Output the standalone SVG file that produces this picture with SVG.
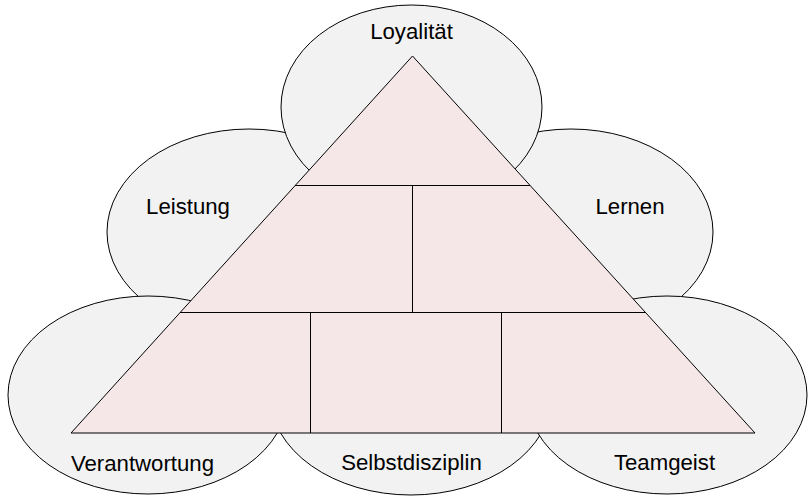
<svg xmlns="http://www.w3.org/2000/svg" width="808" height="496" viewBox="0 0 808 496">
<style>
.bub{fill:#f2f2f2;stroke:#000;stroke-width:1}
.tri{fill:#f5e7e7;stroke:#000;stroke-width:1}
.ln{stroke:#000;stroke-width:1;fill:none}
text{font-family:"Liberation Sans",Arial,sans-serif;font-size:22.2px;fill:#000;text-anchor:middle}
</style>
<rect width="808" height="496" fill="#fff"/>
<g id="leistung"><ellipse class="bub" cx="249" cy="232" rx="142" ry="103"/><text x="188" y="214">Leistung</text></g>
<g id="lernen"><ellipse class="bub" cx="571" cy="232" rx="142" ry="103"/><text x="630" y="214">Lernen</text></g>
<g id="loyalitaet"><ellipse class="bub" cx="411.5" cy="107" rx="130.5" ry="102"/><text x="411.5" y="39">Loyalität</text></g>
<g id="verantwortung"><ellipse class="bub" cx="148" cy="395" rx="140" ry="99"/><text x="142.5" y="471">Verantwortung</text></g>
<g id="selbstdisziplin"><ellipse class="bub" cx="411" cy="395" rx="141" ry="100"/><text x="411.5" y="470">Selbstdisziplin</text></g>
<g id="teamgeist"><ellipse class="bub" cx="667" cy="395" rx="140" ry="99"/><text x="664.5" y="470">Teamgeist</text></g>
<g id="pyramid">
<polygon class="tri" points="412.5,56 755,433 71,433"/>
</g>
<g id="connectors">
<line class="ln" x1="295" y1="185.5" x2="530" y2="185.5"/>
<line class="ln" x1="180" y1="312.5" x2="645" y2="312.5"/>
<line class="ln" x1="412.5" y1="185.5" x2="412.5" y2="312.5"/>
<line class="ln" x1="310.5" y1="312.5" x2="310.5" y2="433"/>
<line class="ln" x1="501.5" y1="312.5" x2="501.5" y2="433"/>
</g>
</svg>
